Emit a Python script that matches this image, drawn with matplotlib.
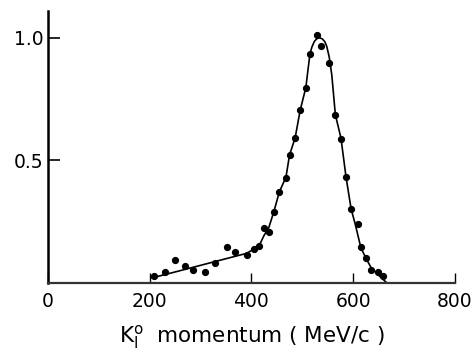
import matplotlib
matplotlib.use("Agg")
import matplotlib.pyplot as plt

# Measured K1 momentum spectrum (normalised counts)
momentum = [209, 230, 250, 269, 286, 309, 329, 352, 368, 391, 406, 416, 425, 434,
            444, 455, 468, 475, 486, 496, 507, 515, 528, 536, 553, 565, 576, 586,
            596, 609, 615, 625, 635, 649, 659]
counts = [0.028, 0.045, 0.094, 0.069, 0.056, 0.048, 0.083, 0.146, 0.127, 0.117,
          0.141, 0.152, 0.224, 0.209, 0.290, 0.371, 0.428, 0.522, 0.592, 0.705,
          0.796, 0.932, 1.011, 0.964, 0.895, 0.686, 0.589, 0.432, 0.302, 0.241,
          0.146, 0.101, 0.054, 0.045, 0.028]

# Fitted curve
curve_x = [205, 250, 300, 350, 391, 407, 417, 425, 434, 444, 455, 468, 475, 486,
           496, 507, 515, 519, 524, 529, 534, 539, 544, 548, 553, 558, 565, 576,
           586, 596, 604, 615, 625, 636, 653, 667]
curve_y = [0.022, 0.046, 0.073, 0.100, 0.122, 0.142, 0.160, 0.195, 0.225, 0.290,
           0.372, 0.432, 0.522, 0.592, 0.705, 0.796, 0.932, 0.962, 0.985, 0.996,
           0.999, 0.995, 0.984, 0.965, 0.920, 0.848, 0.686, 0.591, 0.432, 0.302,
           0.241, 0.146, 0.102, 0.061, 0.027, 0.0]

x_ticks = [0, 200, 400, 600, 800]
x_labels = ["0", "200", "400", "600", "800"]
y_ticks = [0.5, 1.0]
y_labels = ["0.5", "1.0"]

plt.rcParams["font.family"] = ["DejaVu Sans"]

fig = plt.figure(figsize=(4.77, 3.5), dpi=100)
ax = fig.add_axes([47.7 / 477, 1 - 283.3 / 350, (455 - 47.7) / 477, (283.3 - 11) / 350])

ax.plot(curve_x, curve_y, color="black", lw=1.2, solid_joinstyle="round")
ax.plot(momentum, counts, "o", color="black", ms=4.2, mec="black")

ax.set_xlim(0, 800)
ax.set_ylim(0, 1.108)

for side in ("top", "right"):
    ax.spines[side].set_visible(False)
ax.spines["left"].set_linewidth(1.8)
ax.spines["bottom"].set_linewidth(1.6)
ax.spines["bottom"].set_color("#333333")

ax.set_xticks(x_ticks)
ax.set_xticklabels(x_labels)
ax.set_yticks(y_ticks)
ax.set_yticklabels(y_labels)
ax.tick_params(axis="x", direction="in", length=7.5, width=1.0, pad=6,
               labelsize=13.5)
ax.tick_params(axis="y", direction="in", length=8.5, width=1.2, pad=3,
               labelsize=13.5)

ax.set_xlabel(r"K$_{\mathregular{I}}^{\mathregular{o}}$  momentum ( MeV/c )",
              fontsize=15.5, labelpad=9)

fig.savefig("out.png", dpi=100)
